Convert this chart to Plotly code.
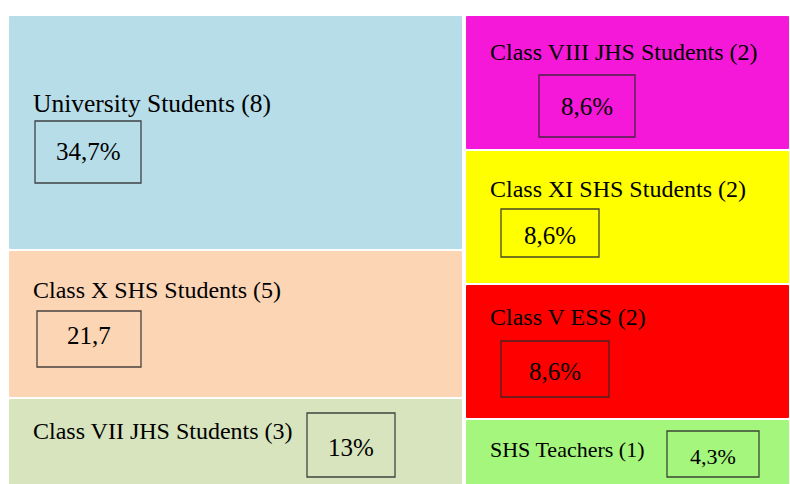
import plotly.graph_objects as go

# ---- data ----
left_names = ["University Students", "Class X SHS Students", "Class VII JHS Students"]
left_counts = [8, 5, 3]
left_pct = ["34,7%", "21,7", "13%"]
left_colors = ["#B7DDE8", "#FCD5B5", "#D7E4BD"]

right_names = ["Class VIII JHS Students", "Class XI SHS Students", "Class V ESS", "SHS Teachers"]
right_counts = [2, 2, 2, 1]
right_pct = ["8,6%", "8,6%", "8,6%", "4,3%"]
right_colors = ["#F518D8", "#FFFF00", "#FF0000", "#A4F67C"]

# ---- layout constants (window pixels) ----
W, H = 790, 484
ML, MT = 8, 15
PW, PH = W - ML, H - MT
LEFT_COL = (0, 455)
RIGHT_COL = (457, 782)
Y_END = 0.996  # bottom row runs past the lower edge, as in the source

FONT = "Liberation Serif"

def py(p):
    return 1 - (p - MT) / PH

def px(p):
    return p - ML

fig = go.Figure()

def add_column(names, counts, colors, col):
    total = sum(counts)
    cum = 0
    for n, c, colr in zip(names, counts, colors):
        fig.add_trace(go.Bar(
            x=[(col[0] + col[1]) / 2], y=[c / total], base=[cum / total],
            width=[col[1] - col[0]], marker=dict(color=colr, line=dict(color="white", width=2)),
            name=n, showlegend=False, hoverinfo="skip"))
        cum += c

add_column(left_names, left_counts, left_colors, LEFT_COL)
add_column(right_names, right_counts, right_colors, RIGHT_COL)

# label positions (left x, center y) in window pixels
label_pos = [(31, 103), (31, 290), (31, 431), (488, 52), (488, 189), (488, 317), (488, 449)]
label_size = [25.5, 24, 24, 24, 24, 24, 22]
# percent box: (x0, y0, x1, y1)
boxes = [(35, 121, 141, 183), (37, 311, 141, 367), (307, 413, 395, 477),
         (539, 75, 635, 137), (501, 209, 599, 257), (501, 341, 609, 397), (667, 431, 759, 477)]
box_size = [25, 25, 25, 25, 25, 25, 22]
box_dy = [0, -4, 2, 0, 2, 2, 2]

names = left_names + right_names
counts = left_counts + right_counts
pcts = left_pct + right_pct

for i, (n, c, p) in enumerate(zip(names, counts, pcts)):
    lx, ly = label_pos[i]
    fig.add_annotation(x=px(lx), y=py(ly), xref="x", yref="paper", xanchor="left", yanchor="middle",
                       text=f"{n} ({c})", showarrow=False,
                       font=dict(family=FONT, size=label_size[i], color="black"))
    x0, y0, x1, y1 = boxes[i]
    fig.add_shape(type="rect", xref="x", yref="paper", x0=px(x0), x1=px(x1), y0=py(y0), y1=py(y1),
                  line=dict(color="rgba(40,40,40,0.85)", width=1.3), fillcolor="rgba(0,0,0,0)")
    fig.add_annotation(x=px((x0 + x1) / 2), y=py((y0 + y1) / 2 + box_dy[i]), xref="x", yref="paper",
                       xanchor="center", yanchor="middle", text=p, showarrow=False,
                       font=dict(family=FONT, size=box_size[i], color="black"))

fig.update_layout(
    width=W, height=H, margin=dict(l=ML, r=0, t=MT, b=0),
    paper_bgcolor="white", plot_bgcolor="white", barmode="overlay", bargap=0,
    barcornerradius=2,
    xaxis=dict(range=[0, PW], visible=False, fixedrange=True),
    yaxis=dict(range=[Y_END, 0], visible=False, fixedrange=True),
)

fig.write_html("out.html", config={"displayModeBar": False},
               post_script="document.body.style.margin='0';document.body.style.overflow='hidden';")
